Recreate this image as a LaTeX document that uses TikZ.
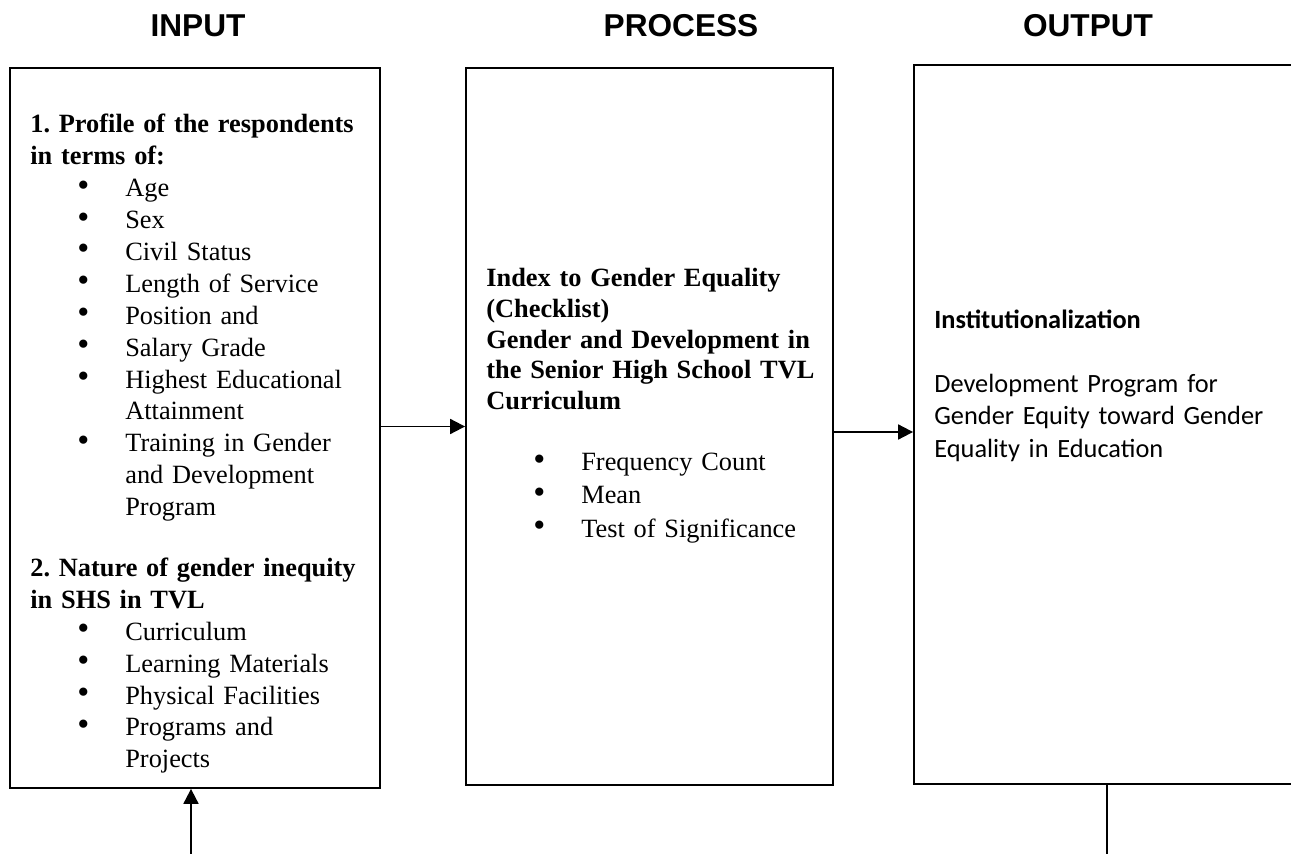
\documentclass[tikz,border=0pt]{standalone}
\usepackage{fontspec}
\usepackage{graphicx}
\setmainfont{Liberation Serif}
\newfontfamily\headfont{Liberation Sans}
\newfontfamily\calfont{Carlito}
\usetikzlibrary{arrows.meta}

\newcommand{\bitem}[1]{\hspace*{0.94cm}\makebox[0.96cm][l]{\raisebox{0.05ex}{\scalebox{1.3}{\textbullet}}}#1}
\newcommand{\bcont}[1]{\hspace*{1.90cm}#1}

\tikzset{
  stage/.style={draw, line width=1.1pt, inner sep=0pt},
  head/.style={font=\headfont\bfseries\fontsize{18}{20}\selectfont},
  body/.style={anchor=base west, inner sep=0pt, text width=6.9cm, align=left,
    font=\frenchspacing\fontsize{15}{18.15}\selectfont},
  flow/.style={line width=1.1pt, -{Triangle[length=8.5pt,width=8.5pt]}},
}

\begin{document}
\begin{tikzpicture}[x=0.02cm,y=-0.02cm]
  \useasboundingbox (0,0) rectangle (1291,854);
  \clip (0,0) rectangle (1291,854);

  \node[head] (inhead) at (198,26) {INPUT};
  \node[head] (prochead) at (681,26) {PROCESS};
  \node[head] (outhead) at (1088,26) {OUTPUT};

  \node[stage, minimum width=7.40cm, minimum height=14.40cm] (inbox) at (195,428) {};
  \node[stage, minimum width=7.34cm, minimum height=14.34cm] (procbox) at (649.5,426.5) {};
  \node[stage, minimum width=7.80cm, minimum height=14.38cm] (outbox) at (1109,424.5) {};

  \node[body] (intext) at (30,133) {\textbf{1. Profile of the respondents}\\
    \textbf{in terms of:}\\
    \bitem{Age}\\
    \bitem{Sex}\\
    \bitem{Civil Status}\\
    \bitem{Length of Service}\\
    \bitem{Position and}\\
    \bitem{Salary Grade}\\
    \bitem{Highest Educational}\\
    \bcont{Attainment}\\
    \bitem{Training in Gender}\\
    \bcont{and Development}\\
    \bcont{Program}\\[16.5pt]
    \textbf{2. Nature of gender inequity}\\
    \textbf{in SHS in TVL}\\
    \bitem{Curriculum}\\
    \bitem{Learning Materials}\\
    \bitem{Physical Facilities}\\
    \bitem{Programs and}\\
    \bcont{Projects}};

  \node[body, font=\frenchspacing\fontsize{15}{17.4}\selectfont] (proctext) at (486,287)
    {\textbf{Index to Gender Equality}\\
    \textbf{(Checklist)}\\
    \textbf{Gender and Development in}\\
    \textbf{the Senior High School TVL}\\
    \textbf{Curriculum}\\[17.6pt]
    \bitem{Frequency Count}\\[1.5pt]
    \bitem{Mean}\\[1.5pt]
    \bitem{Test of Significance}};

  \node[body, font=\calfont\fontsize{15}{18.5}\selectfont] (outtext) at (934,329)
    {\textbf{Institutionalization}\\[17.4pt]
    Development Program for\\
    Gender Equity toward Gender\\
    Equality in Education};

  \coordinate (lvlA) at (0,426.5);
  \coordinate (lvlB) at (0,432);
  \draw[flow] (inbox.east |- lvlA) -- (procbox.west |- lvlA);
  \draw[flow] (procbox.east |- lvlB) -- (outbox.west |- lvlB);

  \coordinate (feed) at (191,854);
  \draw[flow] (feed) -- (inbox.south -| feed);
  \coordinate (outfoot) at (1107,854);
  \draw[line width=0.8pt] (outbox.south -| outfoot) -- (outfoot);
\end{tikzpicture}
\end{document}
